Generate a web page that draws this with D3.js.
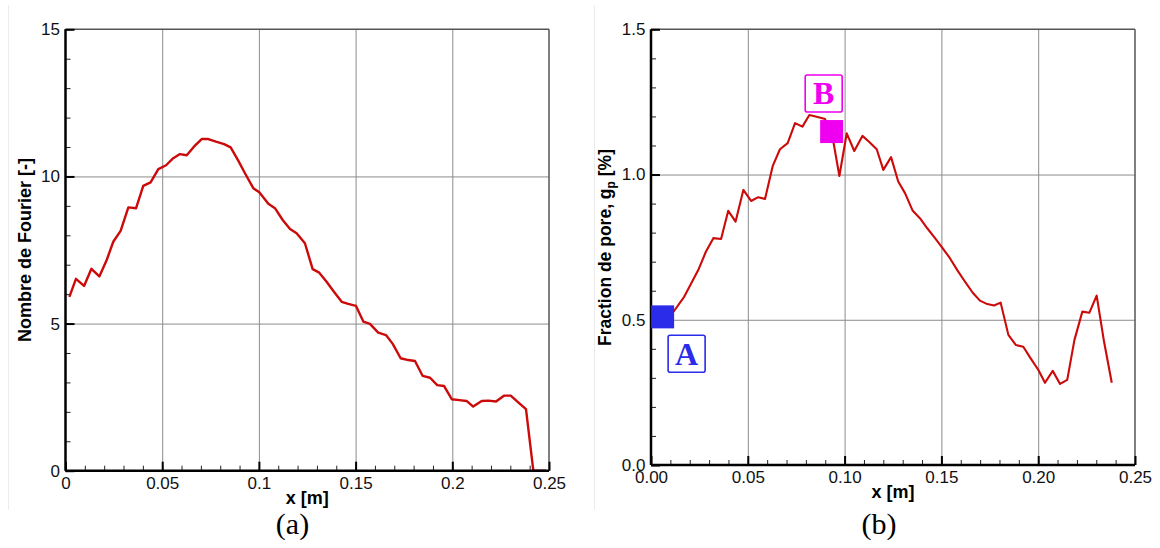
<!DOCTYPE html>
<html>
<head>
<meta charset="utf-8">
<script src="https://cdn.jsdelivr.net/npm/d3@7/dist/d3.min.js"></script>
<style>
  html, body { margin: 0; padding: 0; background: #fff; }
  svg { display: block; }
  .tick text { font-family: "Liberation Sans", Arial, sans-serif; font-size: 17px; fill: #111; }
</style>
</head>
<body>
<svg id="chart" width="1160" height="548"></svg>
<script>
// ---------- Data ----------
const fourierX = [0.002,0.0054,0.0096,0.0134,0.0175,0.0213,0.0247,0.0285,0.0325,0.0365,0.0402,0.044,0.048,0.052,0.0557,0.0592,0.0627,0.0664,0.0704,0.0738,0.0778,0.082,0.0854,0.0894,0.0928,0.0971,0.1002,0.1049,0.1083,0.1123,0.1161,0.1195,0.1238,0.1278,0.1312,0.135,0.1388,0.1428,0.1462,0.1502,0.154,0.1574,0.1617,0.1657,0.1692,0.1733,0.1772,0.1807,0.1847,0.1885,0.1922,0.1957,0.1997,0.2036,0.2074,0.2108,0.2152,0.2186,0.2226,0.2267,0.2302,0.2341,0.2381,0.2419,0.2485];
const fourierY = [5.91,6.52,6.28,6.86,6.60,7.16,7.78,8.15,8.95,8.92,9.68,9.80,10.25,10.38,10.62,10.76,10.72,11.01,11.27,11.27,11.18,11.10,10.99,10.53,10.11,9.60,9.46,9.07,8.92,8.52,8.21,8.07,7.73,6.85,6.73,6.42,6.08,5.74,5.67,5.60,5.07,4.99,4.69,4.61,4.31,3.82,3.76,3.73,3.22,3.16,2.91,2.88,2.43,2.40,2.37,2.18,2.37,2.38,2.35,2.55,2.55,2.32,2.09,0.0,0.0];

const poreX = [0.005,0.012,0.0172,0.021,0.0244,0.0284,0.0322,0.0362,0.0399,0.0437,0.0477,0.0517,0.0554,0.0589,0.0629,0.0666,0.0706,0.0744,0.0782,0.0818,0.0856,0.0899,0.0942,0.0973,0.1011,0.105,0.1092,0.1126,0.1166,0.12,0.124,0.1277,0.1312,0.1352,0.139,0.1427,0.1467,0.1507,0.1544,0.1582,0.1622,0.1662,0.1699,0.1737,0.1772,0.1806,0.1846,0.1885,0.1923,0.1961,0.2001,0.2035,0.2075,0.2113,0.215,0.2187,0.2228,0.2264,0.2302,0.234,0.238];
const poreY = [0.50,0.531,0.580,0.628,0.671,0.735,0.781,0.778,0.875,0.838,0.947,0.909,0.922,0.916,1.030,1.087,1.108,1.177,1.165,1.205,1.199,1.191,1.113,0.995,1.142,1.081,1.133,1.113,1.087,1.016,1.060,0.976,0.936,0.875,0.849,0.815,0.781,0.746,0.712,0.671,0.631,0.593,0.566,0.554,0.549,0.559,0.448,0.413,0.407,0.367,0.327,0.283,0.324,0.279,0.293,0.430,0.528,0.524,0.583,0.425,0.283];

// Markers (label, x, y) and their label-box anchor (data coords)
const markerLabels = ["A", "B"];
const markerX = [0.006, 0.0933];
const markerY = [0.51, 1.148];
const labelBoxX = [0.0184, 0.0892];
const labelBoxY = [0.383, 1.279];
const markerColors = ["#2b2bea", "#f000f0"];

// Ticks
const xTicksA = [0, 0.05, 0.1, 0.15, 0.2, 0.25];
const xTickLabelsA = ["0", "0.05", "0.1", "0.15", "0.2", "0.25"];
const yTicksA = [0, 5, 10, 15];
const yTickLabelsA = ["0", "5", "10", "15"];
const xTicksB = [0, 0.05, 0.1, 0.15, 0.2, 0.25];
const xTickLabelsB = ["0.00", "0.05", "0.10", "0.15", "0.20", "0.25"];
const yTicksB = [0, 0.5, 1.0, 1.5];
const yTickLabelsB = ["0.0", "0.5", "1.0", "1.5"];

// ---------- Drawing ----------
const svg = d3.select("#chart");
const FONT = '"Liberation Sans", Arial, sans-serif';
const SERIF = '"Liberation Serif", "Times New Roman", serif';

// faint panel frames
svg.append("line").attr("x1", 8.5).attr("x2", 8.5).attr("y1", 5).attr("y2", 510).attr("stroke", "#ececec");
svg.append("line").attr("x1", 594.5).attr("x2", 594.5).attr("y1", 5).attr("y2", 510).attr("stroke", "#ececec");

function range(a, b, step) { const r = []; for (let v = a; v <= b + 1e-9; v += step) r.push(+v.toFixed(6)); return r; }

function panel(cfg) {
  const x = d3.scaleLinear().domain(cfg.xDomain).range([cfg.left, cfg.right]);
  const y = d3.scaleLinear().domain(cfg.yDomain).range([cfg.bottom, cfg.top]);
  const H = cfg.bottom - cfg.top, W = cfg.right - cfg.left;
  const g = svg.append("g");

  // grid
  const gx = g.append("g").attr("transform", `translate(0,${cfg.bottom})`)
    .call(d3.axisBottom(x).tickValues(cfg.xTicks.slice(1, -1)).tickSize(-H).tickFormat(""));
  gx.select(".domain").remove();
  gx.selectAll("line").attr("stroke", "#8c8c8c").attr("stroke-width", 1);
  const gy = g.append("g").attr("transform", `translate(${cfg.left},0)`)
    .call(d3.axisLeft(y).tickValues(cfg.yTicks.slice(1, -1)).tickSize(-W).tickFormat(""));
  gy.select(".domain").remove();
  gy.selectAll("line").attr("stroke", "#8c8c8c").attr("stroke-width", 1);

  // top and right frame
  g.append("line").attr("x1", cfg.left).attr("x2", cfg.right).attr("y1", cfg.top).attr("y2", cfg.top)
    .attr("stroke", "#555").attr("stroke-width", 1.5);
  g.append("line").attr("x1", cfg.right).attr("x2", cfg.right).attr("y1", cfg.top).attr("y2", cfg.bottom)
    .attr("stroke", "#555").attr("stroke-width", 1.5);

  // minor ticks
  const mx = g.append("g").attr("transform", `translate(0,${cfg.bottom})`)
    .call(d3.axisBottom(x).tickValues(cfg.xMinor).tickSize(-5).tickFormat(""));
  mx.select(".domain").remove();
  mx.selectAll("line").attr("stroke", "#222").attr("stroke-width", 1);
  const my = g.append("g").attr("transform", `translate(${cfg.left},0)`)
    .call(d3.axisLeft(y).tickValues(cfg.yMinor).tickSize(-5).tickFormat(""));
  my.select(".domain").remove();
  my.selectAll("line").attr("stroke", "#222").attr("stroke-width", 1);

  // line
  const pts = cfg.xs.map((v, i) => [v, cfg.ys[i]]);
  g.append("path").datum(pts)
    .attr("fill", "none").attr("stroke", "#cc0a0a").attr("stroke-width", cfg.lw)
    .attr("stroke-linejoin", "round")
    .attr("d", d3.line().x(d => x(d[0])).y(d => y(d[1])));

  // major axes
  const ax = g.append("g").attr("transform", `translate(0,${cfg.bottom})`)
    .call(d3.axisBottom(x).tickValues(cfg.xTicks).tickSize(-9).tickPadding(6)
      .tickFormat((d, i) => cfg.xLabels[i]));
  ax.select(".domain").attr("stroke", "#000").attr("stroke-width", 2.5).attr("d", `M${cfg.left},0H${cfg.right}`);
  ax.selectAll(".tick line").attr("stroke", "#000").attr("stroke-width", 2);
  const ay = g.append("g").attr("transform", `translate(${cfg.left},0)`)
    .call(d3.axisLeft(y).tickValues(cfg.yTicks).tickSize(-9).tickPadding(5.5)
      .tickFormat((d, i) => cfg.yLabels[i]));
  ay.select(".domain").attr("stroke", "#000").attr("stroke-width", 2.5).attr("d", `M0,${cfg.top}V${cfg.bottom}`);
  ay.selectAll(".tick line").attr("stroke", "#000").attr("stroke-width", 2);

  // axis titles
  const cx = (cfg.left + cfg.right) / 2;
  g.append("text").attr("x", cx).attr("y", cfg.bottom + 33).attr("text-anchor", "middle")
    .attr("font-family", FONT).attr("font-weight", "bold").attr("font-size", 18).text("x [m]");
  g.append("text").attr("x", cfg.captionX).attr("y", 534).attr("text-anchor", "middle")
    .attr("font-family", SERIF).attr("font-size", 30).text(cfg.caption);

  return { g, x, y };
}

// Panel (a)
const pa = panel({
  left: 65.5, right: 549, top: 29.3, bottom: 470.7,
  xDomain: [0, 0.25], yDomain: [0, 15],
  xTicks: xTicksA, xLabels: xTickLabelsA, yTicks: yTicksA, yLabels: yTickLabelsA,
  xMinor: range(0, 0.25, 0.01), yMinor: range(0, 15, 1),
  xs: fourierX, ys: fourierY, lw: 2.4, caption: "(a)", captionX: 292.5
});
pa.g.append("text")
  .attr("transform", `translate(31,250) rotate(-90)`)
  .attr("text-anchor", "middle").attr("font-family", FONT).attr("font-weight", "bold").attr("font-size", 18)
  .text("Nombre de Fourier [-]");

// Panel (b)
const pb = panel({
  left: 651, right: 1135, top: 29.3, bottom: 465,
  xDomain: [0, 0.25], yDomain: [0, 1.5],
  xTicks: xTicksB, xLabels: xTickLabelsB, yTicks: yTicksB, yLabels: yTickLabelsB,
  xMinor: range(0, 0.25, 0.01), yMinor: range(0, 1.5, 0.1),
  xs: poreX, ys: poreY, lw: 2.1, caption: "(b)", captionX: 879
});
const yt = pb.g.append("text")
  .attr("transform", `translate(611,247.5) rotate(-90)`)
  .attr("text-anchor", "middle").attr("font-family", FONT).attr("font-weight", "bold").attr("font-size", 17.5);
yt.append("tspan").text("Fraction de pore, g");
yt.append("tspan").attr("font-size", 12).attr("dy", 4).text("p");
yt.append("tspan").attr("dy", -4).text(" [%]");

// markers
const SQ = 23, BOX = 37;
markerLabels.forEach((lab, i) => {
  const mx = pb.x(markerX[i]), my = pb.y(markerY[i]);
  pb.g.append("rect").attr("x", mx - SQ / 2).attr("y", my - SQ / 2).attr("width", SQ).attr("height", SQ)
    .attr("fill", markerColors[i]);
  const bx = pb.x(labelBoxX[i]), by = pb.y(labelBoxY[i]);
  pb.g.append("rect").attr("x", bx - BOX / 2).attr("y", by - BOX / 2).attr("width", BOX).attr("height", BOX)
    .attr("rx", 2).attr("fill", "#fff").attr("stroke", markerColors[i]).attr("stroke-width", 1.6);
  pb.g.append("text").attr("x", bx).attr("y", by + 11).attr("text-anchor", "middle")
    .attr("font-family", SERIF).attr("font-weight", "bold").attr("font-size", 32)
    .attr("fill", markerColors[i]).text(lab);
});
</script>
</body>
</html>
